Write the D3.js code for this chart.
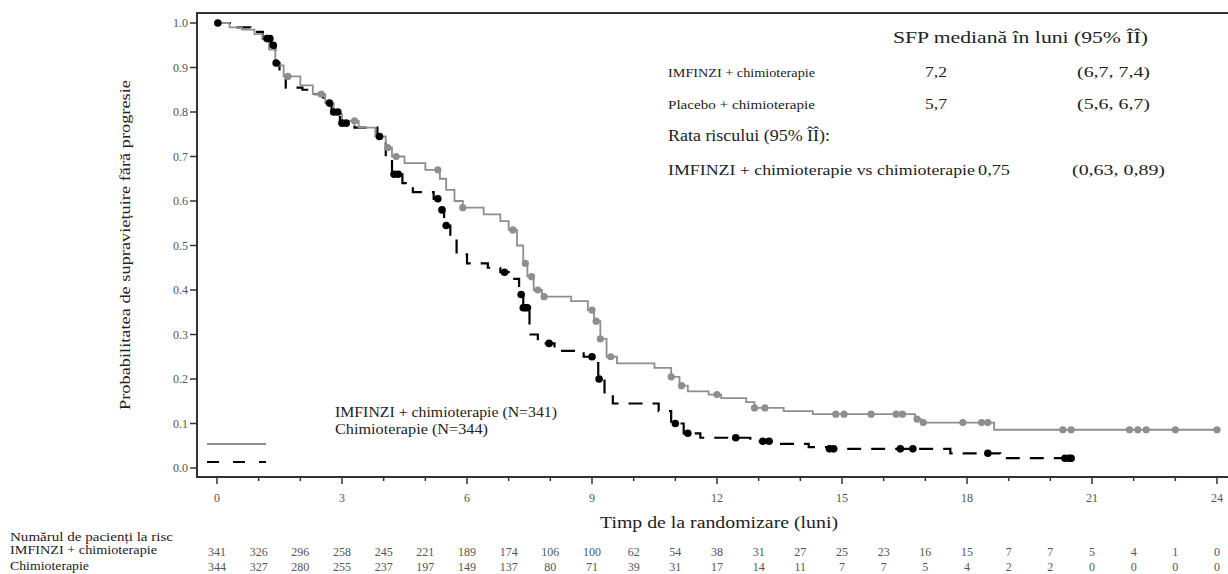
<!DOCTYPE html>
<html>
<head>
  <script src="https://d3js.org/d3.v7.min.js"></script>
  <title>SFP Kaplan-Meier</title>
  <style>
  body { margin: 0; background: white; font-family: "Liberation Serif", serif; }
  svg text { font-family: "Liberation Serif", serif; fill: #222; }
  </style>
</head>
<body>
<svg id="km" width="1228" height="574"></svg>
<script>
// ---- data ----
// Kaplan-Meier steps: [months, probability after the drop]
var imfSteps = [[0,1.0],[0.3,0.99],[0.6,0.985],[0.9,0.975],[1.1,0.965],[1.25,0.94],[1.4,0.905],[1.6,0.88],
  [2.0,0.86],[2.3,0.84],[2.6,0.82],[2.8,0.795],[3.0,0.78],[3.4,0.765],[3.8,0.745],[4.05,0.72],[4.2,0.70],
  [4.5,0.685],[5.0,0.67],[5.35,0.65],[5.5,0.625],[5.7,0.60],[5.9,0.585],[6.4,0.57],[6.8,0.555],[7.0,0.535],
  [7.2,0.50],[7.35,0.46],[7.45,0.43],[7.6,0.40],[7.8,0.385],[8.5,0.375],[8.9,0.355],[9.05,0.33],[9.2,0.29],
  [9.35,0.25],[9.6,0.235],[10.5,0.225],[10.9,0.205],[11.1,0.185],[11.3,0.172],[11.8,0.165],[12.1,0.157],
  [12.7,0.148],[12.9,0.135],[13.6,0.128],[14.3,0.121],[16.75,0.11],[16.9,0.102],[18.65,0.086]];
var imfEnd = 24;
var imfCensor = [1.7,2.5,3.3,4.1,4.3,5.3,5.9,7.1,7.4,7.55,7.7,7.85,9.0,9.1,9.2,9.45,10.9,11.15,12.0,12.9,13.15,
  14.85,15.05,15.7,16.3,16.45,16.8,16.95,17.9,18.35,18.5,20.3,20.5,21.9,22.1,22.3,23.0,24.0];

var chemoSteps = [[0,1.0],[0.4,0.99],[0.8,0.98],[1.1,0.965],[1.3,0.95],[1.4,0.91],[1.5,0.885],[1.65,0.855],
  [2.05,0.85],[2.3,0.84],[2.55,0.82],[2.75,0.80],[2.95,0.775],[3.3,0.765],[3.85,0.745],[4.05,0.70],[4.2,0.66],
  [4.45,0.64],[4.7,0.62],[5.2,0.605],[5.35,0.58],[5.45,0.545],[5.6,0.52],[5.75,0.48],[6.0,0.46],[6.5,0.45],
  [6.8,0.44],[7.1,0.425],[7.25,0.39],[7.35,0.36],[7.5,0.30],[7.7,0.28],[8.1,0.263],[8.8,0.25],[9.05,0.236],
  [9.15,0.20],[9.3,0.17],[9.5,0.145],[10.6,0.128],[10.9,0.10],[11.2,0.078],[11.6,0.068],[12.8,0.06],
  [13.4,0.054],[14.2,0.047],[14.7,0.043],[17.6,0.033],[18.8,0.022]];
var chemoEnd = 20.55;
var chemoCensor = [0.02,1.2,1.27,1.35,1.42,2.7,2.8,2.9,3.0,3.1,3.9,4.25,4.35,5.3,5.4,5.5,6.9,7.3,7.35,7.4,7.45,
  7.97,9.0,9.17,11.0,11.3,12.45,13.1,13.25,14.7,14.8,16.4,16.7,18.5,20.35,20.45,20.5];

// numbers at risk, one per month
var riskMonths = [0,1,2,3,4,5,6,7,8,9,10,11,12,13,14,15,16,17,18,19,20,21,22,23,24];
var riskImf = [341,326,296,258,245,221,189,174,106,100,62,54,38,31,27,25,23,16,15,7,7,5,4,1,0];
var riskChemo = [344,327,280,255,237,197,149,137,80,71,39,31,17,14,11,7,7,5,4,2,2,0,0,0,0];

var xTicks = [0,3,6,9,12,15,18,21,24];
var yTicks = [0,0.1,0.2,0.3,0.4,0.5,0.6,0.7,0.8,0.9,1.0];

// ---- layout ----
var svg = d3.select("#km");
var axisX = 197, axisBottom = 477, frameTop = 13;
var xs = d3.scaleLinear().domain([0,24]).range([217,1217]);
var ys = d3.scaleLinear().domain([0,1]).range([468,23]);
var grey = "#8e8e8e";

// plain text helper, stretched to the width seen in the reference
function label(x, y, size, str, width) {
  var t = svg.append("text").attr("x", x).attr("y", y).style("font-size", size + "px").text(str);
  if (width) t.attr("textLength", width).attr("lengthAdjust", "spacingAndGlyphs");
  return t;
}

// frame
svg.append("path")
  .attr("d", "M1228," + frameTop + "H" + axisX + "V" + axisBottom + "H1228")
  .attr("fill", "none").attr("stroke", "#333").attr("stroke-width", 2);

// y ticks
var yg = svg.append("g");
yg.selectAll("line").data(yTicks).enter().append("line")
  .attr("x1", axisX - 7).attr("x2", axisX)
  .attr("y1", function(d){ return ys(d); }).attr("y2", function(d){ return ys(d); })
  .attr("stroke", "#333").attr("stroke-width", 1.5);
yg.selectAll("text").data(yTicks).enter().append("text")
  .attr("x", axisX - 9).attr("y", function(d){ return ys(d) + 4; })
  .attr("text-anchor", "end").style("font-size", "12px").style("fill", "#555")
  .text(function(d){ return d.toFixed(1); });

// x ticks (monthly minor, 3-monthly major)
var xg = svg.append("g");
xg.selectAll("line").data(riskMonths).enter().append("line")
  .attr("x1", function(d){ return xs(d); }).attr("x2", function(d){ return xs(d); })
  .attr("y1", axisBottom).attr("y2", function(d){ return axisBottom + (d % 3 == 0 ? 7 : 4); })
  .attr("stroke", "#333").attr("stroke-width", 1.5);
xg.selectAll("text").data(xTicks).enter().append("text")
  .attr("x", function(d){ return xs(d); }).attr("y", 502)
  .attr("text-anchor", "middle").style("font-size", "12px").style("fill", "#555")
  .text(function(d){ return d; });

// axis titles
label(600, 528, 16, "Timp de la randomizare (luni)", 238);
svg.append("text").attr("transform", "translate(130,245) rotate(-90)").attr("x", -165)
  .style("font-size", "15px").attr("textLength", 330).attr("lengthAdjust", "spacingAndGlyphs")
  .text("Probabilitatea de supraviețuire fără progresie");

// KM curves
function stepPath(steps, end) {
  var pts = steps.slice();
  pts.push([end, steps[steps.length - 1][1]]);
  return d3.line().curve(d3.curveStepAfter)
    .x(function(d){ return xs(d[0]); }).y(function(d){ return ys(d[1]); })(pts);
}
function survAt(steps, t) {
  var v = steps[0][1];
  steps.forEach(function(s){ if (s[0] <= t) v = s[1]; });
  return v;
}

svg.append("path").attr("d", stepPath(chemoSteps, chemoEnd))
  .attr("fill", "none").attr("stroke", "#000").attr("stroke-width", 2.2)
  .attr("stroke-dasharray", "14,10");
svg.append("path").attr("d", stepPath(imfSteps, imfEnd))
  .attr("fill", "none").attr("stroke", grey).attr("stroke-width", 1.8);

svg.append("g").selectAll("circle").data(imfCensor).enter().append("circle")
  .attr("cx", function(d){ return xs(d); }).attr("cy", function(d){ return ys(survAt(imfSteps, d)); })
  .attr("r", 3.6).attr("fill", grey);
svg.append("g").selectAll("circle").data(chemoCensor).enter().append("circle")
  .attr("cx", function(d){ return xs(d); }).attr("cy", function(d){ return ys(survAt(chemoSteps, d)); })
  .attr("r", 3.8).attr("fill", "#000");

// legend
svg.append("line").attr("x1", 207).attr("x2", 266).attr("y1", 444).attr("y2", 444)
  .attr("stroke", grey).attr("stroke-width", 2);
svg.append("line").attr("x1", 207).attr("x2", 266).attr("y1", 462).attr("y2", 462)
  .attr("stroke", "#000").attr("stroke-width", 2).attr("stroke-dasharray", "12,14");
label(335, 417, 14, "IMFINZI + chimioterapie (N=341)", 222);
label(335, 434, 14, "Chimioterapie (N=344)", 153);

// median / hazard ratio box
label(893, 43, 16, "SFP mediană în luni (95% ÎÎ)", 255);
label(668, 77, 13, "IMFINZI + chimioterapie", 147);
label(925, 77, 15, "7,2", 22);
label(1077, 77, 15, "(6,7, 7,4)", 73);
label(668, 109, 13, "Placebo + chimioterapie", 147);
label(925, 109, 15, "5,7", 22);
label(1077, 109, 15, "(5,6, 6,7)", 73);
label(668, 141, 16, "Rata riscului (95% ÎÎ):", 162);
label(668, 175, 14, "IMFINZI + chimioterapie vs chimioterapie", 307);
label(978, 175, 15, "0,75", 32);
label(1072, 175, 15, "(0,63, 0,89)", 93);

// numbers at risk
label(10, 541, 13, "Numărul de pacienți la risc", 163);
label(10, 554, 13, "IMFINZI + chimioterapie", 147);
label(10, 570, 13, "Chimioterapie", 79);
svg.append("g").selectAll("text").data(riskImf).enter().append("text")
  .attr("x", function(d, i){ return xs(riskMonths[i]); }).attr("y", 556)
  .attr("text-anchor", "middle").style("font-size", "12px").style("fill", "#555")
  .text(function(d){ return d; });
svg.append("g").selectAll("text").data(riskChemo).enter().append("text")
  .attr("x", function(d, i){ return xs(riskMonths[i]); }).attr("y", 571)
  .attr("text-anchor", "middle").style("font-size", "12px").style("fill", "#555")
  .text(function(d){ return d; });
</script>
</body>
</html>
